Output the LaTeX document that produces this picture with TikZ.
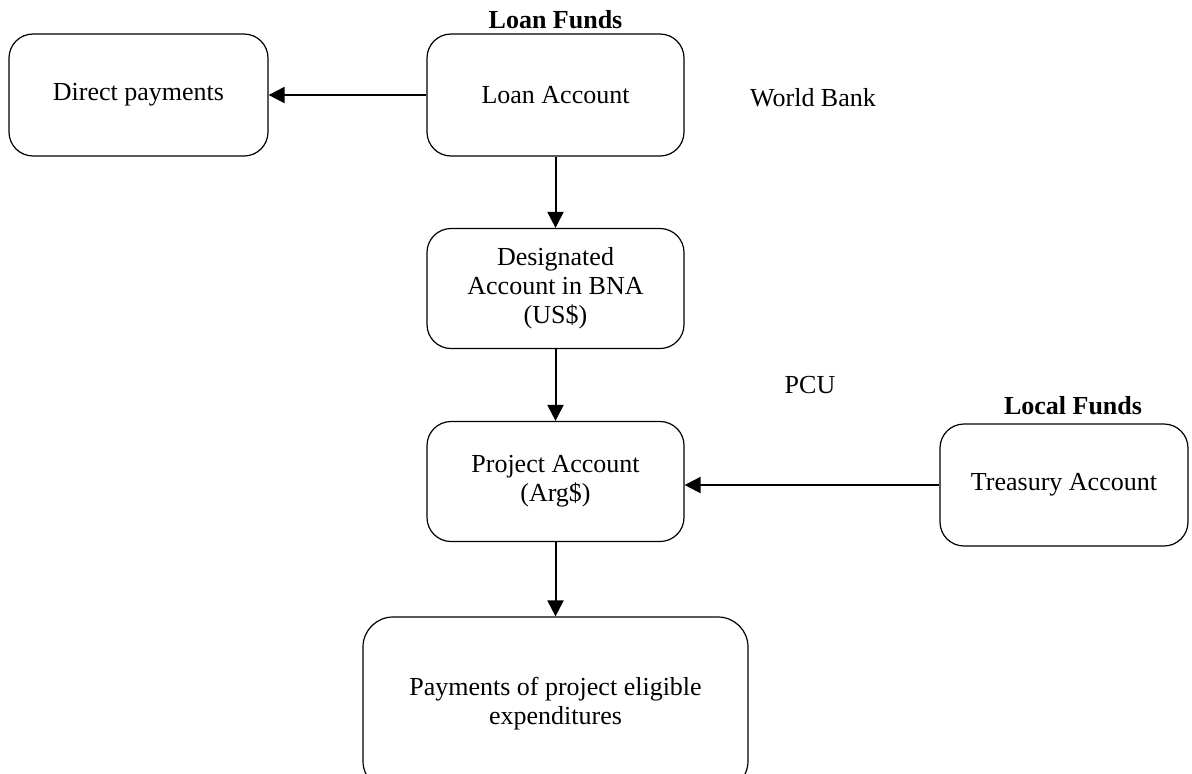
\documentclass[tikz,border=0pt]{standalone}
\usepackage{fontspec}
\setmainfont{Liberation Serif}
\usetikzlibrary{arrows.meta}

\begin{document}
\begin{tikzpicture}[x=0.5pt, y=-0.5pt,
	account/.style={rectangle, draw, rounded corners=12pt, line width=0.6pt, align=center, inner sep=0pt},
	flow/.style={-{Triangle[length=8pt, width=8pt]}, line width=1pt},
	font=\fontsize{13}{14.5}\selectfont]
	\useasboundingbox (0,0) rectangle (1192,773);
%	box sizes are in pixels of the page
	\node[account, minimum width=129.5pt, minimum height=61pt] at (138.5,95) (direct) {Direct payments};
	\node[account, minimum width=128.5pt, minimum height=61pt] at (555.5,95) (loan) {Loan Account};
	\node[account, minimum width=128.5pt, minimum height=60pt] at (555.5,288.5) (designated) {Designated\\Account in BNA\\(US\$)};
	\node[account, minimum width=128.5pt, minimum height=60pt] at (555.5,481.5) (project) {Project Account\\(Arg\$)};
	\node[account, minimum width=124pt, minimum height=61pt] at (1064,485) (treasury) {Treasury Account};
	\node[account, minimum width=192.5pt, minimum height=87pt, rounded corners=15pt] at (555.5,704) (payments) {Payments of project eligible\\expenditures};

	\node[font=\fontsize{13}{14}\selectfont\bfseries] at (555.5,20) (loanfunds) {Loan Funds};
	\node[font=\fontsize{13}{14}\selectfont\bfseries] at (1073,406) (localfunds) {Local Funds};
	\node at (813,98) (worldbank) {World Bank};
	\node at (810,385) (pcu) {PCU};

	\draw[flow] (loan) -- (direct);
	\draw[flow] (loan) -- (designated);
	\draw[flow] (designated) -- (project);
	\draw[flow] (treasury.west) -- (project.east |- treasury.west);
	\draw[flow] (project) -- (payments);
\end{tikzpicture}
\end{document}
